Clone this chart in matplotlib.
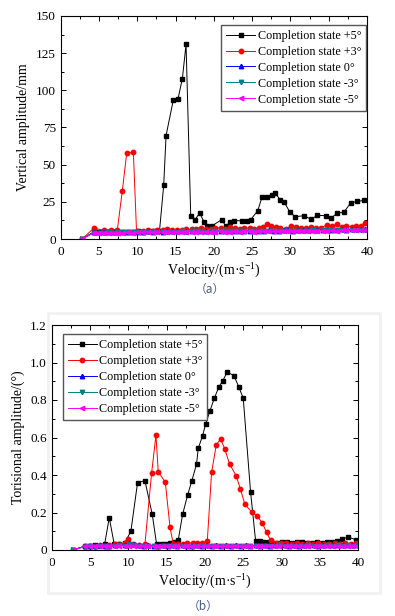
import matplotlib
matplotlib.use("Agg")
import matplotlib.pyplot as plt
from matplotlib.patches import Rectangle
from matplotlib.ticker import MultipleLocator

plt.rcParams['font.family'] = ['Liberation Serif', 'DejaVu Serif']
plt.rcParams['mathtext.fontset'] = 'custom'
plt.rcParams['mathtext.rm'] = 'Liberation Serif'

# ---- data ----
labels = ['Completion state +5°', 'Completion state +3°', 'Completion state 0°',
          'Completion state -3°', 'Completion state -5°']
colors = ['#000000', '#ff0000', '#0000ff', '#008080', '#ff00ff']
markers = ['s', 'o', '^', 'v', '<']

# shared wind speeds for the flat series
speed = [2.8, 4.3, 5.0, 5.6, 6.3, 6.9, 7.5, 8.2, 8.8, 9.5,
         10.1, 10.7, 11.4, 12.0, 12.6, 13.3, 13.9, 14.5, 15.2, 15.8,
         16.4, 17.1, 17.7, 18.3, 19.0, 19.6, 20.2, 20.9, 21.5, 22.1,
         22.8, 23.4, 24.0, 24.7, 25.3, 25.9, 26.6, 27.2, 27.8, 28.5,
         29.1, 29.7, 30.4, 31.0, 31.6, 32.3, 32.9, 33.5, 34.2, 34.8,
         35.4, 36.1, 36.7, 37.3, 38.0, 38.6, 39.2, 39.8]

# (a) vertical amplitude
vert_p5_x = [2.8, 4.3, 5.0, 5.6, 6.3, 6.9, 7.5, 8.2, 8.8, 9.5,
             10.1, 10.7, 11.4, 12.0, 12.9, 13.45, 13.76, 14.71, 15.32, 15.89,
             16.37, 16.98, 17.54, 18.15, 18.72, 19.07, 19.81, 21.02, 21.59, 22.11,
             22.68, 23.68, 24.33, 24.81, 25.73, 26.29, 26.90, 27.55, 28.03, 28.64,
             29.21, 29.95, 30.64, 31.82, 32.69, 33.52, 34.61, 35.30, 36.13, 36.96,
             37.87, 38.74, 39.65]
vert_p5 = [0, 4.6, 4.5, 4.7, 4.6, 4.8, 4.7, 4.6, 4.9, 5.0,
           5.1, 5.0, 5.2, 5.1, 5.3, 36.0, 69.6, 93.6, 94.3, 107.9,
           131.0, 15.7, 13.0, 17.5, 11.4, 8.5, 9.0, 13.0, 8.5, 11.2,
           12.3, 12.3, 12.3, 13.0, 19.0, 28.2, 28.2, 29.3, 30.9, 26.4,
           24.6, 17.9, 15.0, 15.7, 13.2, 15.9, 15.7, 14.1, 17.5, 17.9,
           24.2, 25.3, 26.0]
vert_p3_x = [2.8, 4.3, 5.6, 6.6, 7.4, 8.05, 8.62, 9.49, 9.9, 10.7,
             11.4, 12.0, 12.6, 13.3, 13.9, 14.5, 15.2, 15.8, 16.4, 17.1,
             17.7, 18.3, 19.0, 19.6, 20.2, 20.9, 21.5, 22.1, 22.8, 23.4,
             24.0, 24.7, 25.3, 25.9, 26.4, 26.9, 27.5, 28.1, 28.7, 29.4,
             30.1, 30.7, 31.4, 32.0, 32.7, 33.3, 34.0, 34.8, 35.4, 36.1,
             36.7, 37.3, 38.0, 38.6, 39.2, 39.7]
vert_p3 = [0, 7.2, 6.0, 6.3, 6.3, 32.5, 57.8, 58.4, 5.5, 5.6,
           5.8, 5.7, 6.0, 6.2, 6.5, 6.0, 6.3, 6.0, 6.4, 6.6,
           7.0, 7.5, 6.5, 6.8, 7.2, 7.6, 6.9, 7.8, 7.2, 6.8,
           7.5, 7.3, 7.0, 7.4, 8.2, 9.9, 8.6, 7.9, 7.2, 6.9,
           8.7, 8.2, 7.5, 7.4, 8.0, 7.3, 7.6, 9.6, 8.5, 9.9,
           8.0, 8.8, 8.2, 9.0, 8.6, 11.0]
vert_0 = [0, 4.5, 4.4, 4.6, 4.5, 4.7, 4.6, 4.5, 4.8, 4.9,
          5.0, 4.9, 5.1, 5.0, 5.1, 5.0, 5.2, 5.1, 5.3, 5.2,
          5.1, 5.3, 5.2, 5.4, 5.3, 5.2, 5.5, 5.4, 5.3, 5.5,
          5.6, 5.4, 5.5, 5.6, 5.5, 5.7, 5.6, 5.8, 5.7, 5.6,
          5.8, 5.9, 5.7, 5.8, 6.0, 5.9, 6.1, 6.0, 6.2, 6.1,
          6.3, 6.2, 6.4, 6.3, 6.5, 6.4, 6.6, 6.5]
vert_m3 = [0, 4.2, 4.3, 4.2, 4.4, 4.3, 4.5, 4.4, 4.6, 4.5,
           4.7, 4.6, 4.8, 4.7, 4.9, 4.8, 5.0, 4.9, 5.0, 5.1,
           5.0, 5.1, 5.2, 5.1, 5.0, 5.2, 5.1, 5.3, 5.2, 5.1,
           5.3, 5.2, 5.4, 5.3, 5.2, 5.4, 5.3, 5.5, 5.4, 5.3,
           5.5, 5.6, 5.4, 5.6, 5.7, 5.5, 5.8, 5.7, 5.9, 5.8,
           6.0, 5.9, 6.1, 6.0, 6.2, 6.1, 6.3, 6.2]
vert_m5 = [0, 4.0, 4.1, 4.0, 4.2, 4.1, 4.3, 4.2, 4.4, 4.3,
           4.5, 4.4, 4.6, 4.5, 4.7, 4.6, 4.8, 4.7, 4.8, 4.9,
           4.8, 4.9, 5.0, 4.9, 4.8, 5.0, 4.9, 5.1, 5.0, 4.9,
           5.1, 5.0, 5.2, 5.1, 5.0, 5.2, 5.1, 5.3, 5.2, 5.1,
           5.3, 5.4, 5.2, 5.4, 5.5, 5.3, 5.6, 5.5, 5.7, 5.6,
           5.8, 5.7, 5.9, 5.8, 6.0, 5.9, 6.1, 6.0]

# (b) torsional amplitude
tors_p5_x = [2.8, 4.3, 5.0, 5.6, 6.3, 6.9, 7.51, 8.16, 8.8, 9.5,
             10.33, 11.2, 12.16, 13.12, 13.69, 14.34, 14.9, 15.43, 15.99, 16.51,
             17.08, 17.73, 18.29, 18.9, 19.12, 19.69, 20.08, 20.64, 21.21, 21.82,
             22.3, 22.9, 23.77, 24.43, 24.99, 25.95, 26.6, 27.17, 27.73, 28.3,
             28.9, 29.5, 30.1, 30.7, 31.4, 32.0, 32.7, 33.3, 34.0, 34.6,
             35.3, 35.9, 36.6, 37.2, 37.9, 38.7, 39.7]
tors_p5 = [0, 0.02, 0.02, 0.025, 0.02, 0.03, 0.172, 0.03, 0.03, 0.035,
           0.10, 0.359, 0.370, 0.190, 0.03, 0.03, 0.03, 0.035, 0.041, 0.053,
           0.190, 0.293, 0.370, 0.459, 0.542, 0.610, 0.672, 0.741, 0.809, 0.871,
           0.901, 0.949, 0.930, 0.868, 0.809, 0.307, 0.050, 0.050, 0.041, 0.045,
           0.040, 0.040, 0.045, 0.045, 0.040, 0.042, 0.042, 0.040, 0.038, 0.045,
           0.040, 0.045, 0.045, 0.050, 0.060, 0.068, 0.055]
tors_p3_x = [2.8, 4.3, 5.0, 5.6, 6.3, 6.9, 7.5, 8.2, 8.8, 9.6,
             9.96, 10.6, 11.4, 12.16, 13.03, 13.6, 13.9, 14.82, 15.43, 15.86,
             16.5, 17.1, 17.7, 18.4, 19.0, 19.6, 20.3, 20.86, 21.47, 22.03,
             22.6, 23.2, 24.06, 24.63, 25.2, 26.07, 26.81, 27.46, 28.03, 28.55,
             29.2, 29.9, 30.6, 31.3, 32.0, 32.7, 33.4, 34.1, 34.8, 35.5,
             36.2, 36.9, 37.6, 38.3, 39.0, 39.7]
tors_p3 = [0, 0.02, 0.02, 0.02, 0.025, 0.02, 0.025, 0.03, 0.03, 0.04,
           0.057, 0.03, 0.025, 0.03, 0.409, 0.613, 0.418, 0.361, 0.124, 0.03,
           0.03, 0.03, 0.035, 0.04, 0.04, 0.035, 0.048, 0.414, 0.56, 0.592,
           0.537, 0.459, 0.396, 0.324, 0.244, 0.204, 0.181, 0.146, 0.094, 0.053,
           0.04, 0.035, 0.035, 0.03, 0.035, 0.03, 0.035, 0.03, 0.035, 0.03,
           0.03, 0.035, 0.03, 0.035, 0.03, 0.035]
tors_0 = [0, 0.02, 0.022, 0.02, 0.025, 0.022, 0.02, 0.025, 0.03, 0.028,
          0.04, 0.03, 0.025, 0.022, 0.025, 0.022, 0.02, 0.025, 0.022, 0.025,
          0.022, 0.025, 0.022, 0.02, 0.025, 0.022, 0.025, 0.022, 0.025, 0.022,
          0.025, 0.022, 0.025, 0.022, 0.025, 0.022, 0.025, 0.022, 0.025, 0.022,
          0.025, 0.028, 0.025, 0.022, 0.025, 0.022, 0.025, 0.028, 0.025, 0.022,
          0.025, 0.028, 0.025, 0.028, 0.025, 0.028, 0.025, 0.028]
tors_m3 = [0, 0.018, 0.02, 0.018, 0.022, 0.02, 0.018, 0.022, 0.025, 0.024,
           0.03, 0.026, 0.022, 0.02, 0.022, 0.02, 0.018, 0.022, 0.02, 0.022,
           0.02, 0.022, 0.02, 0.018, 0.022, 0.02, 0.022, 0.02, 0.022, 0.02,
           0.022, 0.02, 0.022, 0.02, 0.022, 0.02, 0.022, 0.02, 0.022, 0.02,
           0.022, 0.025, 0.022, 0.02, 0.022, 0.02, 0.022, 0.025, 0.022, 0.02,
           0.022, 0.025, 0.022, 0.025, 0.022, 0.025, 0.022, 0.025]
tors_m5 = [0, 0.02, 0.02, 0.021, 0.02, 0.021, 0.02, 0.022, 0.022, 0.022,
           0.024, 0.022, 0.021, 0.02, 0.021, 0.02, 0.02, 0.021, 0.02, 0.021,
           0.02, 0.021, 0.02, 0.02, 0.021, 0.02, 0.021, 0.02, 0.021, 0.02,
           0.021, 0.02, 0.021, 0.02, 0.021, 0.02, 0.021, 0.02, 0.021, 0.02,
           0.021, 0.022, 0.021, 0.02, 0.021, 0.02, 0.021, 0.022, 0.021, 0.02,
           0.021, 0.022, 0.021, 0.022, 0.021, 0.022, 0.021, 0.022]

vert_series = [(vert_p5_x, vert_p5), (vert_p3_x, vert_p3), (speed, vert_0),
               (speed, vert_m3), (speed, vert_m5)]
tors_series = [(tors_p5_x, tors_p5), (tors_p3_x, tors_p3), (speed, tors_0),
               (speed, tors_m3), (speed, tors_m5)]

W, H = 395, 616
fig = plt.figure(figsize=(W / 100, H / 100), dpi=100)

# faint frame around the lower picture
fig.add_artist(Rectangle((48 / W, 1 - 593 / H), (380 - 48) / W, (593 - 313) / H,
                         transform=fig.transFigure, fill=False,
                         edgecolor='#f1f1f1', lw=2))

ax1 = fig.add_axes([60.7 / W, 1 - 239 / H, (367 - 60.7) / W, 223 / H])
ax2 = fig.add_axes([51.7 / W, 1 - 550 / H, (358.3 - 51.7) / W, 225 / H])

leg_kw = dict(fontsize=8.7, fancybox=False, edgecolor='#555555', framealpha=1,
              handlelength=2.4, handletextpad=0.2, labelspacing=0.33,
              borderpad=0.4, borderaxespad=0)


def draw(ax, series, ylabel):
    for (x, y), lab, c, m in zip(series, labels, colors, markers):
        ax.plot(x, y, color=c, marker=m, ms=3.2, lw=0.7, label=lab)
    ax.set_xlim(0, 40)
    ax.xaxis.set_major_locator(MultipleLocator(5))
    ax.xaxis.set_minor_locator(MultipleLocator(2.5))
    ax.tick_params(which='both', direction='in', top=True, right=True,
                   labelsize=9.5, width=0.7)
    ax.tick_params(which='major', length=3.5)
    ax.tick_params(axis='x', which='major', pad=5)
    ax.tick_params(which='minor', length=2)
    for s in ax.spines.values():
        s.set_linewidth(0.8)
    ax.set_xlabel('Velocity/(m·s$^{-1}$)', fontsize=10, labelpad=1.5)
    ax.set_ylabel(ylabel, fontsize=10, labelpad=4)


draw(ax1, vert_series, 'Vertical amplitude/mm')
ax1.set_ylim(0, 150)
ax1.yaxis.set_major_locator(MultipleLocator(25))
ax1.yaxis.set_minor_locator(MultipleLocator(12.5))
ax1.legend(loc='upper right', bbox_to_anchor=(0.997, 0.96), **leg_kw)

draw(ax2, tors_series, 'Torisional amplitude/(°)')
ax2.set_ylim(0, 1.2)
ax2.set_yticks([0, 0.2, 0.4, 0.6, 0.8, 1.0, 1.2])
ax2.set_yticklabels(['0', '0.2', '0.4', '0.6', '0.8', '1.0', '1.2'])
ax2.yaxis.set_minor_locator(MultipleLocator(0.1))
ax2.legend(loc='upper left', bbox_to_anchor=(0.036, 0.96), **leg_kw)

fig.text(210 / W, 1 - 289 / H, '（a）', ha='center', va='center', fontsize=8.5,
         color='#4a5d8f', family=['Noto Sans CJK SC', 'DejaVu Sans'])
fig.text(203 / W, 1 - 606 / H, '（b）', ha='center', va='center', fontsize=8.5,
         color='#4a5d8f', family=['Noto Sans CJK SC', 'DejaVu Sans'])

fig.savefig('out.png', dpi=100)
